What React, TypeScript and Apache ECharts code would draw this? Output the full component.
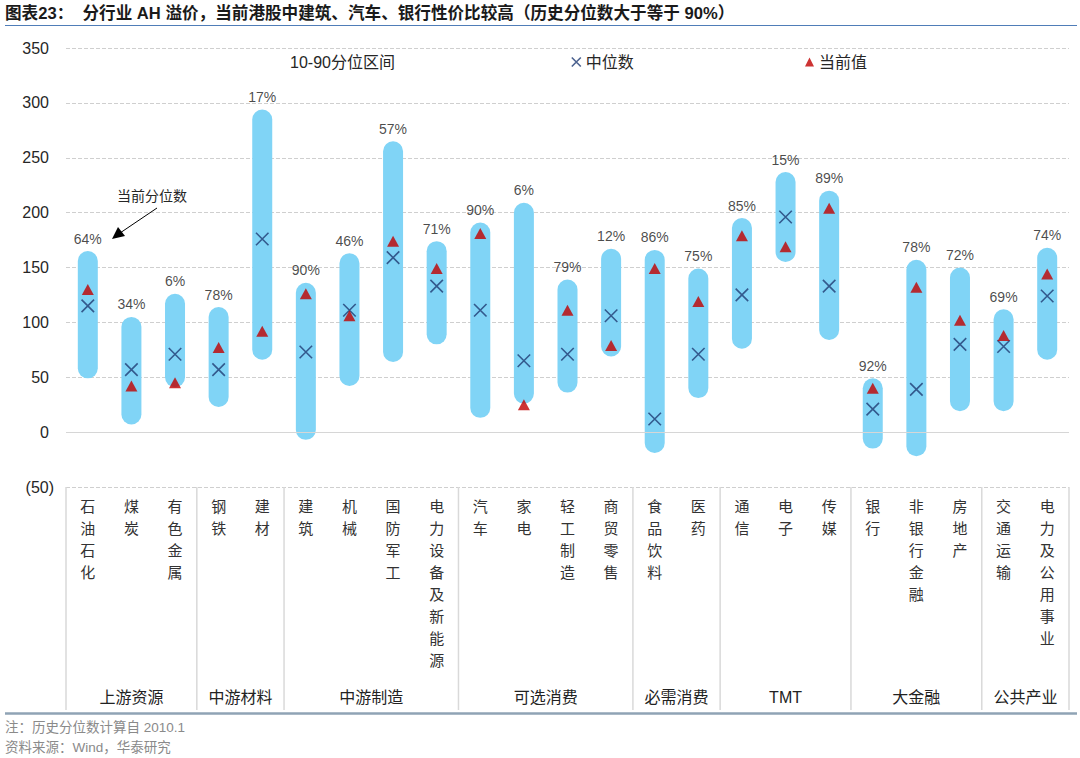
import * as echarts from 'echarts'
import { useEffect, useRef } from 'react'

const categories = [
  '石油石化', '煤炭', '有色金属', '钢铁', '建材', '建筑', '机械', '国防军工', '电力设备及新能源',
  '汽车', '家电', '轻工制造', '商贸零售', '食品饮料', '医药', '通信', '电子', '传媒',
  '银行', '非银行金融', '房地产', '交通运输', '电力及公用事业'
]
const groups = ['上游资源', '中游材料', '中游制造', '可选消费', '必需消费', 'TMT', '大金融', '公共产业']
const groupSizes = [3, 2, 4, 4, 2, 3, 3, 2]

// 10th / 90th percentile of AH premium
const p10 = [49, 7, 41, 23, 66, -7, 42, 64, 80, 13, 26, 36, 69, -19, 31, 76, 155, 84, -15, -22, 19, 19, 66]
const p90 = [165, 105, 126, 114, 294, 136, 163, 265, 174, 191, 209, 139, 167, 166, 149, 195, 237, 220, 49, 157, 150, 112, 168]
const median = [115, 57, 71, 57, 176, 73, 111, 159, 133, 111, 65, 71, 106, 12, 71, 125, 196, 133, 21, 39, 80, 78, 124]
const current = [130, 42, 45, 77, 92, 126, 106, 174, 149, 181, 25, 111, 79, 149, 119, 179, 169, 204, 40, 132, 102, 88, 144]
const pctLabels = ['64%', '34%', '6%', '78%', '17%', '90%', '46%', '57%', '71%', '90%', '6%', '79%', '12%', '86%', '75%', '85%', '15%', '89%', '92%', '78%', '72%', '69%', '74%']

const FONT = "'Liberation Sans', Arial, 'Noto Sans CJK SC', sans-serif"
const X_PATH = 'path://M0,0L10,10M10,0L0,10'

export default function App() {
  const chartRef = useRef<HTMLDivElement>(null)

  useEffect(() => {
    if (!chartRef.current) return
    document.body.style.margin = '0'
    const chart = echarts.init(chartRef.current, null, { renderer: 'svg' })

    const option = {
      animation: false,
      textStyle: { fontFamily: FONT },
      grid: { left: 66, right: 11, top: 48, bottom: 271 },
      legend: [
        {
          data: [{ name: '10-90分位区间', icon: 'none' }],
          left: 280, top: 49, itemWidth: 0, itemHeight: 10,
          textStyle: { fontSize: 16, color: '#262626', fontFamily: FONT }
        },
        {
          data: [{ name: '中位数', icon: X_PATH }],
          left: 566, top: 49, itemWidth: 9, itemHeight: 9,
          itemStyle: { color: 'transparent', borderColor: '#1F3B73', borderWidth: 1.6 },
          textStyle: { fontSize: 16, color: '#262626', fontFamily: FONT }
        },
        {
          data: [{ name: '当前值', icon: 'triangle' }],
          left: 800, top: 49, itemWidth: 9, itemHeight: 9,
          textStyle: { fontSize: 16, color: '#262626', fontFamily: FONT }
        }
      ],
      xAxis: {
        type: 'category',
        data: categories,
        axisLine: { show: false },
        axisTick: { show: false },
        splitLine: { show: false },
        axisLabel: {
          interval: 0,
          margin: 8,
          fontSize: 15,
          lineHeight: 22,
          color: '#333',
          fontFamily: FONT,
          formatter: (v: string) => v.split('').join('\n')
        }
      },
      yAxis: {
        type: 'value',
        min: -50,
        max: 350,
        interval: 50,
        axisLine: { show: false },
        axisTick: { show: false },
        splitLine: { lineStyle: { type: 'dashed', color: '#cfcfcf', width: 1 } },
        axisLabel: {
          margin: 12,
          fontSize: 16,
          color: '#262626',
          fontFamily: FONT,
          formatter: (v: number) => (v < 0 ? `(${-v})` : `${v}{g| }`),
          rich: { g: { width: 5, fontSize: 16 } }
        }
      },
      series: [
        {
          name: 'zero',
          type: 'scatter',
          data: [],
          z: 1,
          markLine: {
            silent: true,
            symbol: 'none',
            label: { show: false },
            lineStyle: { type: 'solid', color: '#d6d6d6', width: 1.2 },
            data: [{ yAxis: 0 }]
          }
        },
        {
          name: '10-90分位区间',
          type: 'custom',
          z: 2,
          itemStyle: { color: '#80D4F6' },
          encode: { x: 0, y: [1, 2] },
          data: categories.map((_, i) => [i, p10[i], p90[i]]),
          renderItem: (_params: any, api: any) => {
            const i = api.value(0)
            const lo = api.coord([i, api.value(1)])
            const hi = api.coord([i, api.value(2)])
            const w = 20
            return {
              type: 'rect',
              shape: { x: lo[0] - w / 2, y: hi[1], width: w, height: lo[1] - hi[1], r: w / 2 },
              style: { fill: '#80D4F6' }
            }
          }
        },
        {
          name: 'pct',
          type: 'scatter',
          z: 5,
          symbolSize: 1,
          itemStyle: { color: 'transparent' },
          data: p90,
          label: {
            show: true,
            position: 'top',
            distance: 5,
            fontSize: 14,
            color: '#1a1a1a',
            fontFamily: FONT,
            formatter: (p: any) => pctLabels[p.dataIndex]
          }
        },
        {
          name: '中位数',
          type: 'scatter',
          z: 4,
          symbol: X_PATH,
          symbolSize: 12.5,
          itemStyle: { color: 'transparent', borderColor: '#1F3B73', borderWidth: 1.6 },
          data: median
        },
        {
          name: '当前值',
          type: 'scatter',
          z: 4,
          symbol: 'triangle',
          symbolSize: [12, 11],
          itemStyle: { color: '#C00000' },
          data: current
        }
      ]
    }

    chart.setOption(option)

    // group separators and group names below the category labels
    const c0 = chart.convertToPixel({ xAxisIndex: 0 }, 0) as number
    const c1 = chart.convertToPixel({ xAxisIndex: 0 }, 1) as number
    const band = c1 - c0
    const edge = (k: number) => c0 - band / 2 + k * band
    const yBase = chart.convertToPixel({ yAxisIndex: 0 }, -50) as number

    const graphics: any[] = []
    let k = 0
    const bounds = [0]
    groupSizes.forEach(s => { k += s; bounds.push(k) })
    bounds.forEach(b => {
      graphics.push({
        type: 'line',
        shape: { x1: edge(b), y1: yBase, x2: edge(b), y2: 710 },
        style: { stroke: '#d9d9d9', lineWidth: 1.5 }
      })
    })
    groups.forEach((g, gi) => {
      graphics.push({
        type: 'text',
        x: (edge(bounds[gi]) + edge(bounds[gi + 1])) / 2,
        y: 697,
        style: { text: g, fontSize: 16, fill: '#222', fontFamily: FONT, align: 'center', verticalAlign: 'middle' }
      })
    })

    graphics.push(
      {
        type: 'text', x: 5, y: 13,
        style: {
          text: '图表23：  分行业 AH 溢价，当前港股中建筑、汽车、银行性价比较高（历史分位数大于等于 90%）',
          fontSize: 16.6, fontWeight: 'bold', fill: '#1a1a1a', fontFamily: FONT, verticalAlign: 'middle'
        }
      },
      { type: 'line', shape: { x1: 5, y1: 25.5, x2: 1077, y2: 25.5 }, style: { stroke: '#4F7DB8', lineWidth: 1 } },
      { type: 'line', shape: { x1: 5, y1: 713.5, x2: 1077, y2: 713.5 }, style: { stroke: '#8FA3B5', lineWidth: 2.5 } },
      {
        type: 'text', x: 5, y: 727,
        style: { text: '注：历史分位数计算自 2010.1', fontSize: 13.5, fill: '#8a8a8a', fontFamily: FONT, verticalAlign: 'middle' }
      },
      {
        type: 'text', x: 5, y: 747,
        style: { text: '资料来源：Wind，华泰研究', fontSize: 13.5, fill: '#8a8a8a', fontFamily: FONT, verticalAlign: 'middle' }
      },
      {
        type: 'text', x: 117, y: 196,
        style: { text: '当前分位数', fontSize: 14, fill: '#262626', fontFamily: FONT, verticalAlign: 'middle' }
      },
      { type: 'line', shape: { x1: 157, y1: 208, x2: 120, y2: 233 }, style: { stroke: '#000', lineWidth: 1 } },
      { type: 'polygon', shape: { points: [[112, 239], [118, 227], [125, 236]] }, style: { fill: '#000' } }
    )

    chart.setOption({ graphic: graphics })

    return () => chart.dispose()
  }, [])

  return <div ref={chartRef} style={{ width: '1080px', height: '758px' }} />
}
